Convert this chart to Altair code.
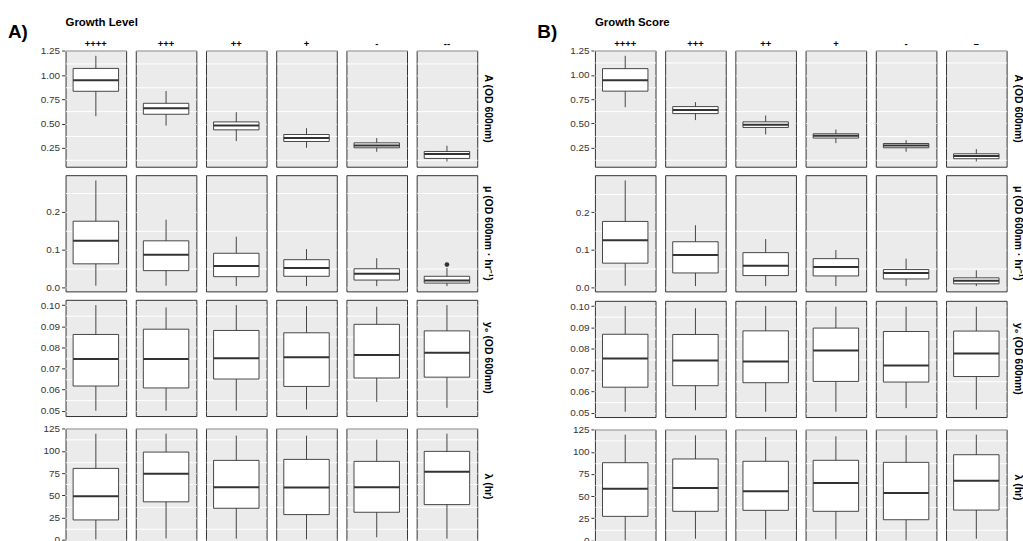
import json
import altair as alt
import pandas as pd

# Facet categories and row (parameter) names
LEVELS_A = ["++++", "+++", "++", "+", "-", "--"]
LEVELS_B = ["++++", "+++", "++", "+", "-", "–"]
PARAMS = ["A (OD 600nm)", "μ (OD 600nm · hr⁻¹)", "y₀ (OD 600nm)", "λ (hr)"]

# ---- Growth Level: box summaries per level (whisker low, Q1, median, Q3, whisker high)
LVL_ASYM_LO = [0.576, 0.479, 0.319, 0.250, 0.209, 0.109]
LVL_ASYM_Q1 = [0.833, 0.596, 0.435, 0.315, 0.250, 0.140]
LVL_ASYM_MED = [0.946, 0.658, 0.479, 0.350, 0.274, 0.185]
LVL_ASYM_Q3 = [1.069, 0.709, 0.517, 0.387, 0.301, 0.212]
LVL_ASYM_HI = [1.199, 0.836, 0.617, 0.452, 0.350, 0.271]

LVL_MU_LO = [0.004, 0.004, 0.003, 0.003, 0.003, 0.003]
LVL_MU_Q1 = [0.062, 0.044, 0.028, 0.029, 0.019, 0.011]
LVL_MU_MED = [0.123, 0.086, 0.056, 0.051, 0.036, 0.018]
LVL_MU_Q3 = [0.175, 0.123, 0.090, 0.073, 0.049, 0.029]
LVL_MU_HI = [0.283, 0.179, 0.134, 0.101, 0.077, 0.051]
LVL_MU_OUT = [None, None, None, None, None, 0.060]

LVL_Y0_LO = [0.0500, 0.0500, 0.0500, 0.0506, 0.0542, 0.0514]
LVL_Y0_Q1 = [0.0617, 0.0608, 0.0650, 0.0615, 0.0655, 0.0659]
LVL_Y0_MED = [0.0745, 0.0745, 0.0748, 0.0753, 0.0764, 0.0775]
LVL_Y0_Q3 = [0.0861, 0.0886, 0.0880, 0.0869, 0.0909, 0.0878]
LVL_Y0_HI = [0.1000, 0.0989, 0.1000, 0.0995, 0.0992, 0.1000]

LVL_LAG_LO = [0.7, 1.8, 1.5, 0.7, 3.0, 1.5]
LVL_LAG_Q1 = [22.5, 42.8, 35.6, 28.5, 31.1, 39.7]
LVL_LAG_MED = [49.1, 74.3, 59.2, 58.9, 59.2, 76.6]
LVL_LAG_Q3 = [80.3, 98.6, 89.3, 90.4, 88.2, 99.4]
LVL_LAG_HI = [119.2, 119.2, 117.1, 117.0, 112.6, 119.2]

# ---- Growth Score
SCR_ASYM_LO = [0.668, 0.535, 0.387, 0.298, 0.209, 0.109]
SCR_ASYM_Q1 = [0.833, 0.602, 0.459, 0.350, 0.250, 0.137]
SCR_ASYM_MED = [0.946, 0.640, 0.486, 0.373, 0.274, 0.165]
SCR_ASYM_Q3 = [1.065, 0.674, 0.517, 0.394, 0.294, 0.188]
SCR_ASYM_HI = [1.197, 0.720, 0.582, 0.438, 0.329, 0.236]

SCR_MU_LO = [0.005, 0.004, 0.004, 0.004, 0.004, 0.004]
SCR_MU_Q1 = [0.065, 0.039, 0.032, 0.031, 0.023, 0.010]
SCR_MU_MED = [0.126, 0.087, 0.058, 0.055, 0.039, 0.018]
SCR_MU_Q3 = [0.176, 0.122, 0.093, 0.077, 0.048, 0.026]
SCR_MU_HI = [0.285, 0.166, 0.129, 0.100, 0.077, 0.046]

SCR_Y0_LO = [0.0505, 0.0512, 0.0505, 0.0505, 0.0522, 0.0515]
SCR_Y0_Q1 = [0.0620, 0.0627, 0.0641, 0.0647, 0.0644, 0.0670]
SCR_Y0_MED = [0.0755, 0.0745, 0.0740, 0.0792, 0.0722, 0.0778]
SCR_Y0_Q3 = [0.0868, 0.0867, 0.0884, 0.0897, 0.0881, 0.0883]
SCR_Y0_HI = [0.1000, 0.0990, 0.1000, 0.0997, 0.0997, 0.0997]

SCR_LAG_LO = [0.0, 1.8, 1.1, 1.1, 0.0, 1.8]
SCR_LAG_Q1 = [27.1, 32.8, 33.9, 32.8, 23.3, 34.2]
SCR_LAG_MED = [58.3, 59.1, 55.4, 64.7, 53.4, 67.4]
SCR_LAG_Q3 = [87.7, 91.9, 89.3, 90.4, 88.1, 96.7]
SCR_LAG_HI = [119.3, 118.6, 116.7, 117.5, 118.6, 119.3]

# Axis breaks per parameter row: labelled ticks and the light grid lines between them
ROW_MAJOR = [
    [0.25, 0.50, 0.75, 1.00, 1.25],
    [0.0, 0.1, 0.2],
    [0.05, 0.06, 0.07, 0.08, 0.09, 0.10],
    [0, 25, 50, 75, 100, 125],
]
ROW_MINOR = [
    [0.125, 0.375, 0.625, 0.875, 1.125],
    [0.05, 0.15, 0.25],
    [0.055, 0.065, 0.075, 0.085, 0.095],
    [12.5, 37.5, 62.5, 87.5, 112.5],
]
ROW_FORMAT = [".2f", ".1f", ".2f", "d"]

INK = "#333333"
CELL_W, CELL_H = 61, 117


def frame(levels, param, lo, q1, med, q3, hi, out=None):
    out = out or [None] * len(levels)
    return pd.DataFrame({
        "level": levels, "param": param, "slot": "box",
        "lo": lo, "q1": q1, "med": med, "q3": q3, "hi": hi, "out": out,
    })


def expanded_domain(df):
    vals = pd.concat([df["lo"], df["hi"], df["out"].dropna()])
    span = vals.max() - vals.min()
    return [float(vals.min() - 0.05 * span), float(vals.max() + 0.05 * span)]


def y_axis(i, domain):
    majors = ROW_MAJOR[i]
    minors = [v for v in ROW_MINOR[i] if domain[0] <= v <= domain[1]]
    test = f"indexof({json.dumps(majors)}, datum.value) >= 0"
    return alt.Axis(
        values=sorted(majors + minors),
        tickCount=100,
        format=ROW_FORMAT[i],
        labelExpr=f"{test} ? datum.label : ''",
        labelOverlap=False,
        labelBound=False,
        labelFlush=False,
        tickOpacity={"condition": {"test": test, "value": 1}, "value": 0},
        grid=True,
        gridColor={"condition": {"test": test, "value": "#EBEBEB"}, "value": "#FFFFFF"},
        gridWidth=1,
        title=None,
    )


def row_chart(df, i, levels, header_title=None):
    domain = expanded_domain(df)
    scale = alt.Scale(domain=domain, nice=False, zero=False)
    x_box = alt.X("slot:N", axis=None, scale=alt.Scale(paddingInner=0, paddingOuter=1 / 6))
    x_mid = alt.X("slot:N", axis=None, bandPosition=0.5)
    base = alt.Chart()

    whisker = base.mark_rule(color=INK, strokeWidth=0.9).encode(
        x=x_mid, y=alt.Y("lo:Q", scale=scale, axis=y_axis(i, domain)), y2="hi:Q"
    )
    box = base.mark_bar(fill="white", stroke=INK, strokeWidth=0.9).encode(
        x=x_box, y="q1:Q", y2="q3:Q"
    )
    median = base.mark_bar(fill=None, stroke=INK, strokeWidth=2).encode(
        x=x_box, y="med:Q", y2="med:Q"
    )
    outlier = base.mark_point(filled=True, color=INK, size=22, opacity=1).encode(
        x=x_mid, y="out:Q"
    )

    if header_title:
        col_header = alt.Header(
            title=header_title, titleAnchor="start", titleFontSize=11.5,
            titleFontWeight="bold", titleColor="black", titlePadding=0,
            labelFontSize=9.5, labelFontWeight="bold", labelColor="black", labelPadding=1,
        )
    else:
        col_header = alt.Header(labels=False, title=None)

    return alt.layer(whisker, box, median, outlier).properties(
        width=CELL_W, height=CELL_H
    ).facet(
        data=df,
        column=alt.Column("level:N", sort=levels, header=col_header, title=header_title),
        row=alt.Row(
            "param:N", title=None,
            header=alt.Header(
                labelOrient="right", labelAngle=90, labelFontSize=10.5,
                labelFontWeight="bold", labelColor="black", labelPadding=5,
            ),
        ),
        spacing={"column": 7.7, "row": 0},
    )


def panel(tag, title, levels, stats, outliers):
    rows = []
    for i, (param, s) in enumerate(zip(PARAMS, stats)):
        df = frame(levels, param, *s, out=outliers[i])
        rows.append(row_chart(df, i, levels, header_title=title if i == 0 else None))
    return alt.vconcat(
        *rows, spacing=6.5,
        title=alt.TitleParams(tag, anchor="start", fontSize=19, fontWeight="bold",
                              color="black", dx=-32.5, dy=29),
    )


level_stats = [
    (LVL_ASYM_LO, LVL_ASYM_Q1, LVL_ASYM_MED, LVL_ASYM_Q3, LVL_ASYM_HI),
    (LVL_MU_LO, LVL_MU_Q1, LVL_MU_MED, LVL_MU_Q3, LVL_MU_HI),
    (LVL_Y0_LO, LVL_Y0_Q1, LVL_Y0_MED, LVL_Y0_Q3, LVL_Y0_HI),
    (LVL_LAG_LO, LVL_LAG_Q1, LVL_LAG_MED, LVL_LAG_Q3, LVL_LAG_HI),
]
score_stats = [
    (SCR_ASYM_LO, SCR_ASYM_Q1, SCR_ASYM_MED, SCR_ASYM_Q3, SCR_ASYM_HI),
    (SCR_MU_LO, SCR_MU_Q1, SCR_MU_MED, SCR_MU_Q3, SCR_MU_HI),
    (SCR_Y0_LO, SCR_Y0_Q1, SCR_Y0_MED, SCR_Y0_Q3, SCR_Y0_HI),
    (SCR_LAG_LO, SCR_LAG_Q1, SCR_LAG_MED, SCR_LAG_Q3, SCR_LAG_HI),
]

left = panel("A)", "Growth Level", LEVELS_A, level_stats, [None, LVL_MU_OUT, None, None])
right = panel("B)", "Growth Score", LEVELS_B, score_stats, [None, None, None, None])

chart = alt.hconcat(left, right, spacing=44).properties(
    padding={"left": 8, "top": 15, "right": 0, "bottom": 0}
).configure(
    font="Liberation Sans"
).configure_view(
    fill="#EBEBEB", stroke=INK, strokeWidth=1
).configure_axis(
    labelColor=INK, labelFontSize=10, tickColor=INK, tickSize=3,
    labelPadding=2, domain=False,
)

chart.save("out.html", embed_options={"renderer": "svg", "actions": False})
